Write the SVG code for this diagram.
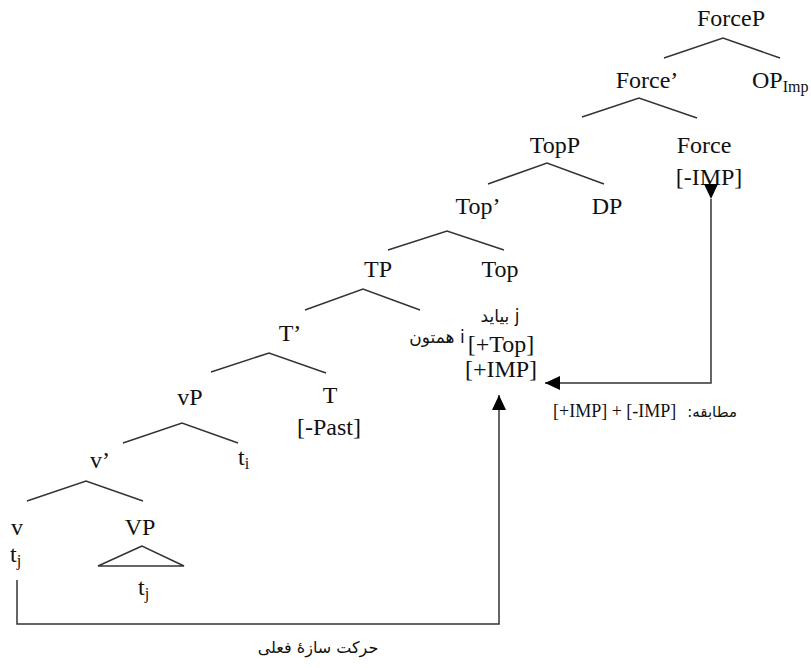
<svg xmlns="http://www.w3.org/2000/svg" width="811" height="668" viewBox="0 0 811 668" font-family="Liberation Serif, serif">
<defs>
<style>
.l{font-size:24px;fill:#111;text-anchor:middle}
.s{font-size:16px}
.fa{font-family:"DejaVu Sans",sans-serif;font-size:17px;fill:#111}
.br{fill:none;stroke:#333;stroke-width:1.5}
.cn{fill:none;stroke:#333;stroke-width:1.5}
</style>
<marker id="ah" markerUnits="userSpaceOnUse" markerWidth="16" markerHeight="14" refX="15" refY="7" orient="auto">
<path d="M0,0 L15,7 L0,14 Z" fill="#000"/>
</marker>
</defs>
<rect width="811" height="668" fill="#fff"/>

<g id="ForceP"><text class="l" x="731" y="26">ForceP</text><path class="br" d="M664,58 L723,38 L780,58"/></g>
<g id="ForceBar"><text class="l" x="647" y="88">Force’</text><path class="br" d="M582,117 L639,98 L697,118"/></g>
<g id="OPImp"><text class="l" x="752" y="88" style="text-anchor:start">OP<tspan class="s" dy="4">Imp</tspan></text></g>
<g id="TopP"><text class="l" x="555" y="153">TopP</text><path class="br" d="M488,184 L547,163 L604,184"/></g>
<g id="Force"><text class="l" x="704" y="153">Force</text><text class="l" x="709" y="185">[-IMP]</text></g>
<g id="TopBar"><text class="l" x="478" y="214">Top’</text><path class="br" d="M388,250 L447,231 L504,250"/></g>
<g id="DP"><text class="l" x="607" y="214">DP</text></g>
<g id="TP"><text class="l" x="378" y="277">TP</text><path class="br" d="M305,310 L363,289 L420,310"/></g>
<g id="Top"><text class="l" x="500" y="277">Top</text>
<text class="fa" x="500" y="322" text-anchor="middle">بیاید j</text>
<text class="l" x="501" y="352">[+Top]</text>
<text class="l" x="501" y="377">[+IMP]</text></g>
<g id="DPsubj"><text class="fa" x="437" y="343" text-anchor="middle">همتون i</text></g>
<g id="TBar"><text class="l" x="290" y="341">T’</text><path class="br" d="M211,372 L269,353 L326,373"/></g>
<g id="T"><text class="l" x="330" y="403">T</text><text class="l" x="329" y="435">[-Past]</text></g>
<g id="vP"><text class="l" x="190" y="405">vP</text><path class="br" d="M123,443 L182,423 L238,443"/></g>
<g id="ti"><text class="l" x="238" y="465" style="text-anchor:start">t<tspan class="s" dy="4">i</tspan></text></g>
<g id="vBar"><text class="l" x="100" y="468">v’</text><path class="br" d="M27,501 L86,481 L143,501"/></g>
<g id="v"><text class="l" x="17" y="535">v</text><text class="l" x="10" y="562" style="text-anchor:start">t<tspan class="s" dy="4">j</tspan></text></g>
<g id="VP"><text class="l" x="140" y="535">VP</text><path class="br" d="M142,546 L98,566 L184,566 Z"/><text class="l" x="138" y="595" style="text-anchor:start">t<tspan class="s" dy="4">j</tspan></text></g>

<g id="connectors">
<path class="cn" d="M17,580 V624 H499 V395" marker-end="url(#ah)"/>
<path class="cn" d="M711,199 V383 H545" marker-start="url(#ah)" marker-end="url(#ah)"/>
</g>
<g id="labels">
<text class="fa" x="318" y="653" text-anchor="middle" style="font-size:16px">حرکت سازهٔ فعلی</text>
<text class="fa" x="737" y="417" direction="rtl" text-anchor="start" style="font-size:15px">مطابقه:</text>
<text x="553" y="417" style="font-size:18px;fill:#111">[+IMP] + [-IMP]</text>
</g>
</svg>
